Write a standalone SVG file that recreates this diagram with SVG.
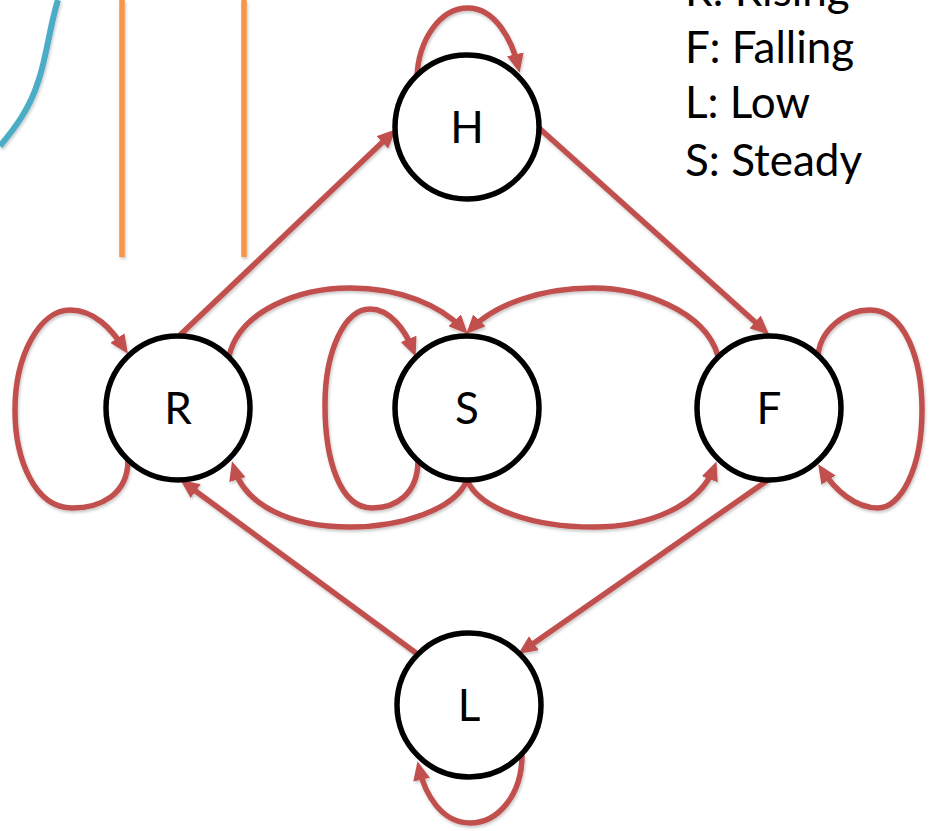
<svg xmlns="http://www.w3.org/2000/svg" width="930" height="831" viewBox="0 0 930 831">
<style>
.node circle{fill:#fff;stroke:#000;stroke-width:5.5}
.lbl{font-family:Lato,"Open Sans",sans-serif;font-size:44px;fill:#000}
.nl{text-anchor:middle}
.e{fill:none;stroke:#C0504D;stroke-width:5.5;marker-end:url(#ah)}
</style>
<defs>
<marker id="ah" markerUnits="userSpaceOnUse" markerWidth="19" markerHeight="17" refX="12" refY="8.5" orient="auto">
<path d="M0,0 L19,8.5 L0,17 z" fill="#C0504D"/>
</marker>
<filter id="sh" x="-10%" y="-10%" width="120%" height="120%">
<feDropShadow dx="1" dy="2" stdDeviation="1.5" flood-color="#000" flood-opacity="0.22"/>
</filter>
</defs>
<g id="background" filter="url(#sh)">
<path d="M58,0 C50,25 46,60 38,82 C30,108 15,128 0,146" fill="none" stroke="#4BACC6" stroke-width="6"/>
<line x1="122" y1="0" x2="122" y2="257" stroke="#F79646" stroke-width="5.5"/>
<line x1="244" y1="0" x2="244" y2="257" stroke="#F79646" stroke-width="5.5"/>
</g>
<g id="legend" class="lbl">
<text x="685" y="6">R: Rising</text>
<text x="685" y="63">F: Falling</text>
<text x="685" y="118">L: Low</text>
<text x="685" y="176">S: Steady</text>
</g>
<g id="connectors" filter="url(#sh)">
<path class="e" d="M180,335 L391,134"/>
<path class="e" d="M539,128 L764,330"/>
<path class="e" d="M768,480 L524,650"/>
<path class="e" d="M416,653 L186,484"/>
<path class="e" d="M128,460 C128,495 100,508 72,508 C35,508 15,460 15,410 C15,355 40,310 70,310 C95,310 112,330 124,348"/>
<path class="e" d="M418,460 C418,495 395,508 372,508 C340,508 325,460 325,405 C325,350 345,309 370,309 C390,309 405,330 413,350"/>
<path class="e" d="M818,356 C820,330 845,310 870,310 C905,310 922,360 922,410 C922,470 900,508 878,508 C855,508 835,490 822,470"/>
<path class="e" d="M417,78 C418,40 440,8 468,8 C495,8 512,40 518,66"/>
<path class="e" d="M522,755 C522,795 498,823 470,823 C442,823 425,795 419,768"/>
<path class="e" d="M229,356 C240,310 300,288 350,288 C400,288 440,305 463,329"/>
<path class="e" d="M718,356 C705,310 640,288 593,288 C540,288 494,305 471,329"/>
<path class="e" d="M467,480 C455,510 400,527 350,527 C290,527 245,505 234,468"/>
<path class="e" d="M467,480 C480,510 535,527 593,527 C650,527 700,505 714,468"/>
</g>
<g id="H" class="node"><circle cx="467" cy="127" r="72"/><text class="lbl nl" x="467" y="143">H</text></g>
<g id="R" class="node"><circle cx="178" cy="408" r="72"/><text class="lbl nl" x="178" y="424">R</text></g>
<g id="S" class="node"><circle cx="467" cy="408" r="72"/><text class="lbl nl" x="467" y="424">S</text></g>
<g id="F" class="node"><circle cx="769" cy="408" r="72"/><text class="lbl nl" x="769" y="424">F</text></g>
<g id="L" class="node"><circle cx="469" cy="705" r="72"/><text class="lbl nl" x="469" y="721">L</text></g>
</svg>
